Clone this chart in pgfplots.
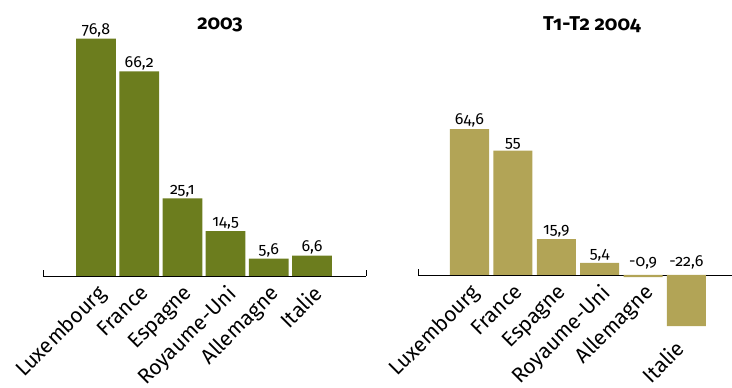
\documentclass[border=0pt]{standalone}
\usepackage{pgfplots}
\pgfplotsset{compat=1.18}
\usepackage{pgfplotstable}
\usepackage{fontspec}
\setmainfont{Fira Sans}[Numbers=OldStyle]
\definecolor{greenbar}{RGB}{108,125,30}
\definecolor{goldbar}{RGB}{178,164,86}

\pgfplotstableread{
x y ly lab
0 76.8 76.8 {76,8}
1 66.2 66.2 {66,2}
2 25.1 25.1 {25,1}
3 14.5 14.5 {14,5}
4 5.6 5.6 {5,6}
5 6.6 6.6 {6,6}
}\tabA

\pgfplotstableread{
x y ly lab
0 64.6 64.6 {64,6}
1 55 55 {55}
2 15.9 15.9 {15,9}
3 5.4 5.4 {5,4}
4 -0.9 2.0 {-0,9}
5 -22.6 2.0 {-22,6}
}\tabB

\pgfplotsset{
  mybars/.style={
    scale only axis, clip=false,
    axis x line=middle, axis y line=none,
    x axis line style={-, line width=0.8pt},
    xtick={0,...,4},
    major tick length=0pt,
    ytick=\empty,
    xticklabel style={xshift=0pt, yshift=-6pt, rotate=45, anchor=north east, font=\fontsize{21}{21}\selectfont, inner sep=1pt},
  },
  vlab/.style={draw=none, mark=none, nodes near coords, point meta=explicit symbolic,
    nodes near coords style={anchor=south, font=\fontsize{16}{16}\selectfont, inner sep=1.5pt, text=black}},
}

\begin{document}
\begin{tikzpicture}[x=1pt,y=1pt]
\useasboundingbox (0,0) rectangle (732,388);
\begin{axis}[mybars,
  at={(43pt,112pt)}, anchor=south west,
  width=323pt, height=247.2pt,
  xmin=-1.227, xmax=6.25, ymin=0, ymax=80,
  xtick={0,...,5},
  xticklabels={Luxembourg,France,Espagne,Royaume-Uni,Allemagne,Italie},
]
\addplot[ybar, bar width=0.92, fill=greenbar, draw=none] table[x=x,y=y]{\tabA};
\addplot[vlab] table[x=x,y=ly,meta=lab]{\tabA};
\draw[line width=0.8pt] (axis cs:-1.227,0) -- (axis cs:-1.227,2);
\draw[line width=0.8pt] (axis cs:6.25,0) -- (axis cs:6.25,2);
\end{axis}
\begin{axis}[mybars,
  at={(418pt,56.5pt)}, anchor=south west,
  width=314pt, height=237.3pt,
  xmin=-1.187, xmax=6.05, ymin=-25, ymax=80,
  xticklabels={Luxembourg,France,Espagne,Royaume-Uni,Allemagne},
  extra x ticks={5}, extra x tick labels={Italie},
  extra x tick style={xticklabel style={xshift=-48.1pt, yshift=-31.1pt}},
]
\addplot[ybar, bar width=0.9, fill=goldbar, draw=none] table[x=x,y=y]{\tabB};
\addplot[vlab] table[x=x,y=ly,meta=lab]{\tabB};
\draw[line width=0.8pt] (axis cs:-1.187,0) -- (axis cs:-1.187,2.6);
\end{axis}
\node[font=\bfseries\fontsize{20}{20}\selectfont] at (220,363) {2003};
\node[font=\bfseries\fontsize{20}{20}\selectfont] at (592,363) {T1-T2 2004};
\end{tikzpicture}
\end{document}
